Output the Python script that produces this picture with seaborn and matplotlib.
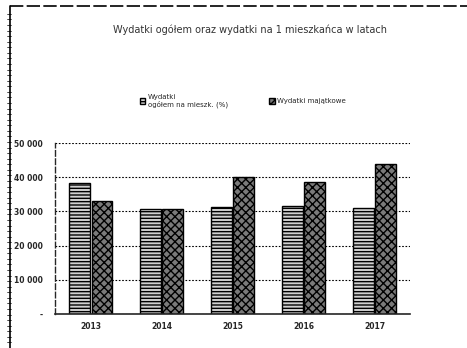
import matplotlib
matplotlib.use("Agg")
import matplotlib.pyplot as plt
from matplotlib.lines import Line2D
from matplotlib.patches import Patch
import seaborn as sns
import pandas as pd

years = ["2013", "2014", "2015", "2016", "2017"]
series_a = [38300, 30700, 31300, 31600, 31000]
series_b = [33000, 30600, 40000, 38600, 43900]
label_a = "Wydatki\nogółem na mieszk. (%)"
label_b = "Wydatki majątkowe"
title = "Wydatki ogółem oraz wydatki na 1 mieszkańca w latach"
yticks = [0, 10000, 20000, 30000, 40000, 50000]
ytick_labels = ["-", "10 000", "20 000", "30 000", "40 000", "50 000"]

df = pd.DataFrame({
    "rok": years * 2,
    "wartosc": series_a + series_b,
    "seria": [label_a] * len(years) + [label_b] * len(years),
})

sns.set_style("white")
plt.rcParams["hatch.linewidth"] = 1.0

fig = plt.figure(figsize=(4.67, 3.48), dpi=100)
ax = fig.add_axes([0.118, 0.098, 0.76, 0.491])

colors = ["#d0d0d0", "#7a7a7a"]
hatches = ["-----", "xxxx"]

sns.barplot(data=df, x="rok", y="wartosc", hue="seria", ax=ax,
            width=0.64, gap=0.08, palette=colors,
            edgecolor="black", linewidth=1.0, legend=False)

for cont, h in zip(ax.containers, hatches):
    for p in cont:
        p.set_hatch(h)

ax.set_ylim(0, 50000)
ax.set_xlim(-0.5, 4.5)
ax.set_yticks(yticks)
ax.set_yticklabels(ytick_labels, fontsize=5.5)
ax.tick_params(axis="x", labelsize=5.5, length=0, pad=6)
ax.tick_params(axis="y", length=0, pad=9)
for lab in ax.get_xticklabels() + ax.get_yticklabels():
    lab.set_fontweight("bold")
ax.set_xlabel("")
ax.set_ylabel("")
ax.yaxis.grid(True, linestyle=(0, (1.5, 1.5)), color="black", linewidth=0.8)
ax.set_axisbelow(True)
for s in ["top", "right"]:
    ax.spines[s].set_visible(False)
ax.spines["left"].set_linestyle((0, (4, 2)))
ax.spines["left"].set_linewidth(1.0)
ax.spines["bottom"].set_linewidth(1.2)

fig.text(0.535, 0.915, title, ha="center", va="center", fontsize=7, color="#333333")

handles = [Patch(facecolor=colors[0], edgecolor="black", hatch=hatches[0]),
           Patch(facecolor=colors[1], edgecolor="black", hatch=hatches[1])]
fig.legend(handles, [label_a, label_b], loc="center", ncol=2,
           bbox_to_anchor=(0.52, 0.71), frameon=False, fontsize=5,
           handlelength=0.8, handleheight=0.8, columnspacing=6, handletextpad=0.3)

# ramka strony
fig.add_artist(Line2D([0.021, 1.0], [0.983, 0.983], color="black",
                      linewidth=1.2, linestyle=(0, (8, 2))))
fig.add_artist(Line2D([0.021, 0.021], [0.0, 0.983], color="black", linewidth=1.2))
for i in range(60):
    y = 0.96 - i * 0.016
    fig.add_artist(Line2D([0.016, 0.024], [y, y], color="black", linewidth=0.5))

fig.savefig("out.png", dpi=100)
